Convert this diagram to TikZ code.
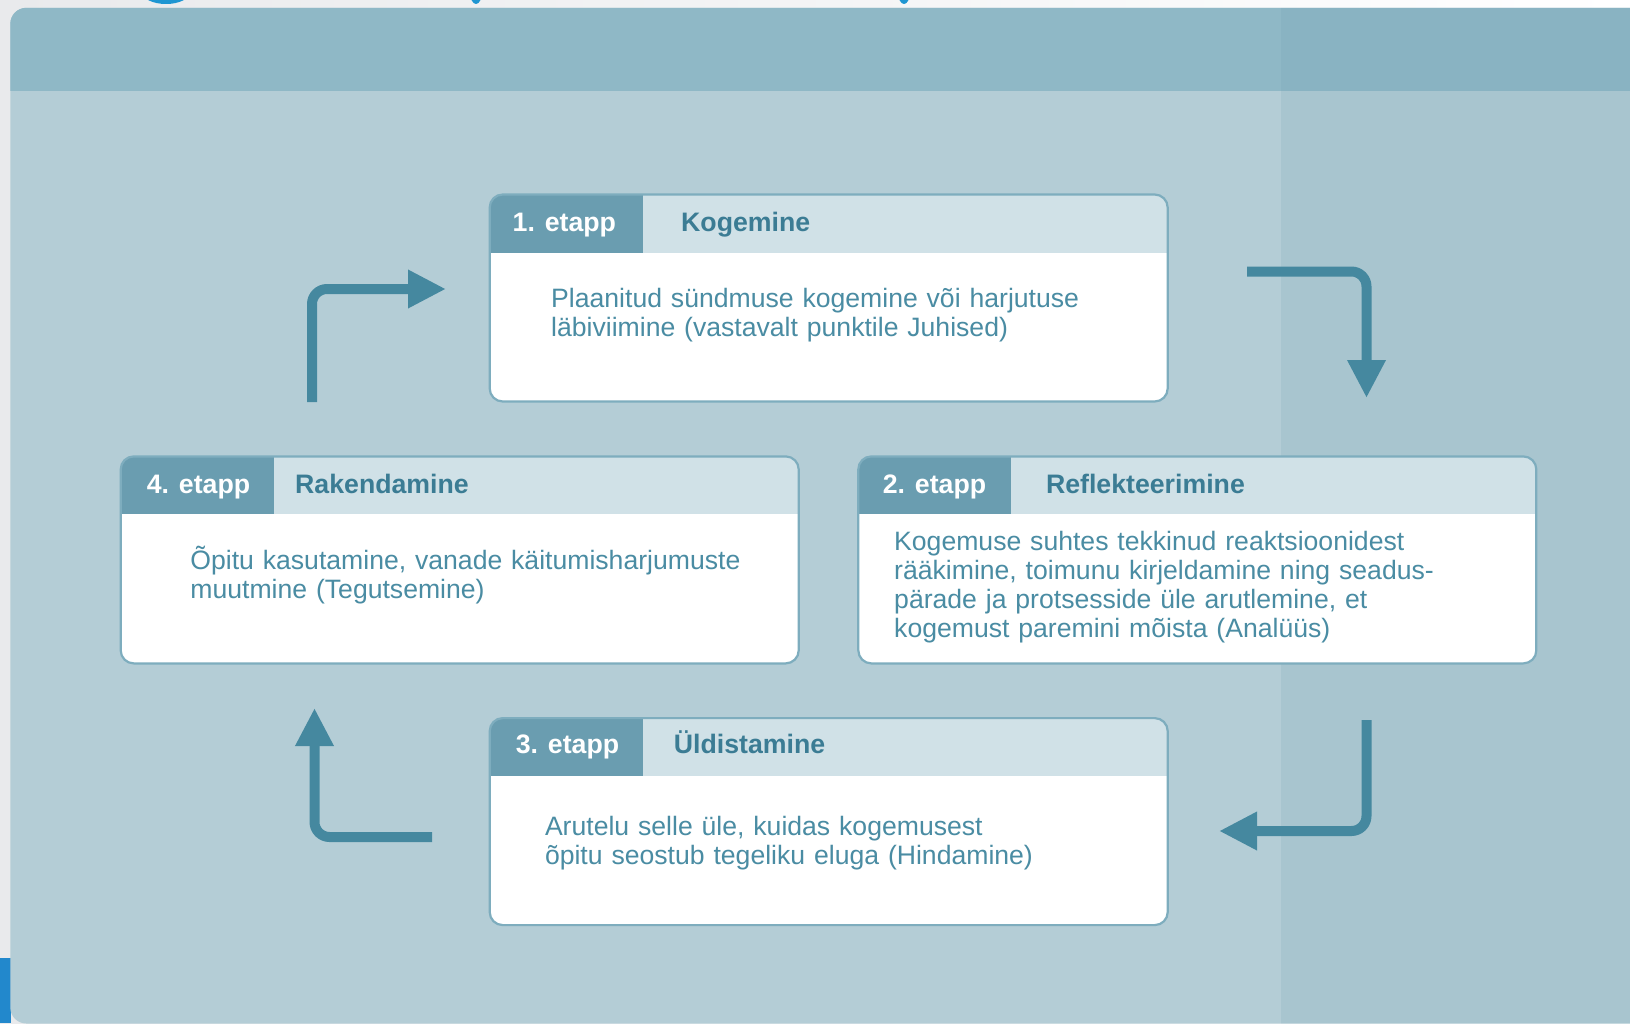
\documentclass[tikz,border=0pt]{standalone}
\usepackage{fontspec}
\setmainfont{Liberation Sans}
\usetikzlibrary{arrows.meta}
\definecolor{outerbg}{HTML}{E9EAEC}
\definecolor{bluebar}{HTML}{2288CC}
\definecolor{toptext}{HTML}{1E96D2}
\definecolor{panelhead}{HTML}{8FB8C6}
\definecolor{panelheadR}{HTML}{89B3C2}
\definecolor{panelbody}{HTML}{B4CDD6}
\definecolor{panelbodyR}{HTML}{A8C5CF}
\definecolor{tabdark}{HTML}{6A9DB0}
\definecolor{hdrlight}{HTML}{D0E1E7}
\definecolor{boxborder}{HTML}{7EADBE}
\definecolor{titletext}{HTML}{3B7C94}
\definecolor{bodytext}{HTML}{4A8CA3}
\definecolor{arrowcol}{HTML}{45889F}
\begin{document}
\begin{tikzpicture}[x=1pt,y=-1pt,
  stagebox/.style={draw=boxborder, line width=2.2pt, fill=white, rounded corners=13pt,
    minimum width=678pt, minimum height=207pt, anchor=north west, inner sep=0pt,
    path picture={
      \fill[hdrlight, sharp corners] (path picture bounding box.north west) rectangle ([yshift=-58pt]path picture bounding box.north east);
      \fill[tabdark, sharp corners] (path picture bounding box.north west) rectangle ([xshift=153pt,yshift=-58pt]path picture bounding box.north west);
    }},
  tablabel/.style={anchor=base west, inner sep=0pt, text=white, font=\fontsize{26.7}{29}\selectfont\bfseries},
  titlelabel/.style={anchor=base west, inner sep=0pt, text=titletext, font=\fontsize{26.7}{29}\selectfont\bfseries},
  bodylabel/.style={anchor=base west, inner sep=0pt, text=bodytext, align=left, text width=600pt,
    font=\fontsize{26.6}{29.1}\selectfont},
  cyclearrow/.style={draw=arrowcol, line width=10pt, rounded corners=15pt,
    -{Triangle[length=38pt,width=36pt]}}
]
\useasboundingbox (0,0) rectangle (1630,1023);
% outer background
\shade[left color=outerbg, right color=white] (0,0) rectangle (1630,1023);
\fill[bluebar] (0,958) rectangle (10.5,1023);
\begin{scope}
  \clip (0,0) rectangle (1630,3.5);
  \fill[toptext] (166,-8) ellipse [x radius=24, y radius=12];
  \fill[toptext] (476,-8) ellipse [x radius=6, y radius=12];
  \fill[toptext] (904,-8) ellipse [x radius=6, y radius=12];
\end{scope}
% panel
\begin{scope}
  \clip[rounded corners=16pt] (10.3,7.8) rectangle (1700,1023.5);
  \fill[panelbody] (0,0) rectangle (1281,1030);
  \fill[panelbodyR] (1281,0) rectangle (1700,1030);
  \fill[panelhead] (0,0) rectangle (1281,90.5);
  \fill[panelheadR] (1281,0) rectangle (1700,90.5);
\end{scope}
% stage boxes
\node[stagebox] (b1) at (488.6,193.4) {};
\node[stagebox] (b4) at (119.6,455.3) {};
\node[stagebox] (b2) at (857.2,455.3) {};
\node[stagebox] (b3) at (488.6,717.0) {};
% headers
\node[tablabel]   (b1tab)   at (512.5,231) {1. etapp};
\node[titlelabel] (b1title) at (681,231) {Kogemine};
\node[tablabel]   (b4tab)   at (146.6,493) {4. etapp};
\node[titlelabel] (b4title) at (295,493) {Rakendamine};
\node[tablabel]   (b2tab)   at (882.6,493) {2. etapp};
\node[titlelabel] (b2title) at (1045.8,493) {Reflekteerimine};
\node[tablabel]   (b3tab)   at (515.6,753) {3. etapp};
\node[titlelabel] (b3title) at (673.7,753) {Üldistamine};
% body texts
\node[bodylabel] (b1text) at (551,307.4) {Plaanitud sündmuse kogemine või harjutuse\\läbiviimine (vastavalt punktile Juhised)};
\node[bodylabel] (b4text) at (190.2,569.3) {Õpitu kasutamine, vanade käitumisharjumuste\\muutmine (Tegutsemine)};
\node[bodylabel] (b2text) at (894,550.6) {Kogemuse suhtes tekkinud reaktsioonidest\\rääkimine, toimunu kirjeldamine ning seadus-\\pärade ja protsesside üle arutlemine, et\\kogemust paremini mõista (Analüüs)};
\node[bodylabel] (b3text) at (544.8,835.5) {Arutelu selle üle, kuidas kogemusest\\õpitu seostub tegeliku eluga (Hindamine)};
% arrow ends
\coordinate (a41s) at (312,402);
\coordinate (a41e) at (446,289);
\coordinate (a12s) at (1247,271.5);
\coordinate (a12e) at (1366.5,398);
\coordinate (a23s) at (1366.5,720);
\coordinate (a23e) at (1219,831);
\coordinate (a34s) at (432,837);
\coordinate (a34e) at (314.5,708);
\draw[cyclearrow] (a41s) |- (a41e);
\draw[cyclearrow] (a12s) -| (a12e);
\draw[cyclearrow] (a23s) |- (a23e);
\draw[cyclearrow] (a34s) -| (a34e);
\end{tikzpicture}
\end{document}
